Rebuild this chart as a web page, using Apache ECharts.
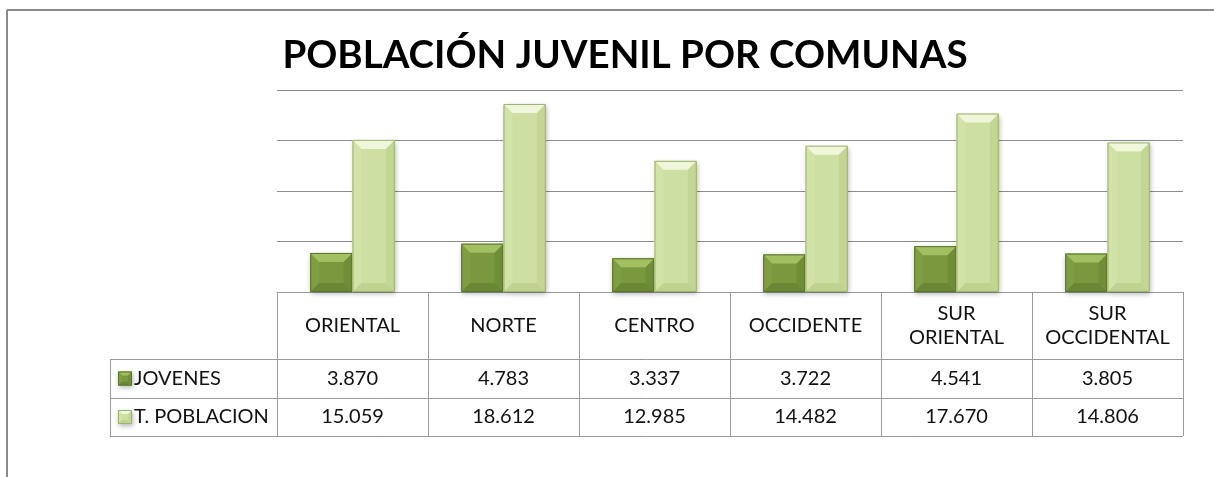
<!DOCTYPE html>
<html>
<head>
<meta charset="utf-8">
<title>Población juvenil por comunas</title>
<script src="https://cdn.jsdelivr.net/npm/echarts@6/dist/echarts.min.js"></script>
<style>
  html, body { margin: 0; padding: 0; background: #fff; }
  #chart { width: 1214px; height: 477px; }
</style>
</head>
<body>
<div id="chart"></div>
<script>
// Communes and their population counts
const comunas = ['ORIENTAL', 'NORTE', 'CENTRO', 'OCCIDENTE', 'SUR\nORIENTAL', 'SUR\nOCCIDENTAL'];
const jovenes = [3870, 4783, 3337, 3722, 4541, 3805];
const totalPoblacion = [15059, 18612, 12985, 14482, 17670, 14806];
const seriesNames = ['JOVENES', 'T. POBLACION'];
const yTicks = [0, 5000, 10000, 15000, 20000];

const FONT = 'Lato, "Open Sans", sans-serif';
const LINE = '#9a9a9a';

// Bevelled fill palettes: top facet, left facet, face, right facet, bottom facet, outline
const palettes = [
  { top: '#a2bf62', left: '#7f9e42', face: '#7a993e', right: '#708e38', bottom: '#6a8735', stroke: '#5a7429' },
  { top: '#eff6da', left: '#d2e3a8', face: '#cddfa3', right: '#c3d694', bottom: '#bfd28f', stroke: '#9db36f' }
];

// Spanish thousands separator
function fmt(n) {
  return String(n).replace(/\B(?=(\d{3})+(?!\d))/g, '.');
}

// Draws a bevelled block between two corners
function bevelShapes(x0, y0, x1, y1, pal, bevel) {
  const b = Math.max(0, Math.min(bevel, (y1 - y0) / 2, (x1 - x0) / 2));
  const poly = (pts, fill) => ({ type: 'polygon', shape: { points: pts }, style: { fill: fill }, silent: true });
  return [
    { type: 'rect', shape: { x: x0, y: y0, width: x1 - x0, height: y1 - y0 },
      style: { fill: pal.face, shadowBlur: 5, shadowOffsetX: 1, shadowOffsetY: 2, shadowColor: 'rgba(0,0,0,0.3)' } },
    poly([[x0, y0], [x0 + b, y0 + b], [x0 + b, y1 - b], [x0, y1]], pal.left),
    poly([[x1, y0], [x1, y1], [x1 - b, y1 - b], [x1 - b, y0 + b]], pal.right),
    poly([[x0, y1], [x0 + b, y1 - b], [x1 - b, y1 - b], [x1, y1]], pal.bottom),
    poly([[x0, y0], [x1, y0], [x1 - b, y0 + b], [x0 + b, y0 + b]], pal.top),
    { type: 'rect', shape: { x: x0 + 0.5, y: y0 + 0.5, width: x1 - x0 - 1, height: y1 - y0 - 1 },
      style: { fill: null, stroke: pal.stroke, lineWidth: 1 }, silent: true }
  ];
}

const BAR_RATIO = 0.28;

function makeRenderer(seriesIndex) {
  return function (params, api) {
    const cat = api.value(0);
    const val = api.value(1);
    const base = api.coord([cat, 0]);
    const top = api.coord([cat, val]);
    const band = api.size([1, 0])[0];
    const w = band * BAR_RATIO;
    const x0 = base[0] - w + seriesIndex * w;
    return {
      type: 'group',
      children: bevelShapes(x0, top[1], x0 + w, base[1], palettes[seriesIndex], 9)
    };
  };
}

const chart = echarts.init(document.getElementById('chart'), null, { renderer: 'canvas' });

const GRID = { left: 277, right: 31, top: 90, bottom: 185 };

chart.setOption({
  backgroundColor: '#ffffff',
  animation: false,
  grid: GRID,
  xAxis: {
    type: 'category',
    data: comunas,
    axisLine: { show: true, lineStyle: { color: LINE, width: 1 } },
    axisTick: { show: false },
    axisLabel: {
      interval: 0, margin: 34, verticalAlign: 'middle', lineHeight: 24,
      fontFamily: FONT, fontSize: 20, color: '#111'
    }
  },
  yAxis: {
    type: 'value',
    min: yTicks[0],
    max: yTicks[yTicks.length - 1],
    interval: yTicks[1] - yTicks[0],
    axisLine: { show: false },
    axisTick: { show: false },
    axisLabel: { show: false },
    splitLine: { lineStyle: { color: '#8c8c8c', width: 1 } }
  },
  series: [
    { name: seriesNames[0], type: 'custom', renderItem: makeRenderer(0),
      encode: { x: 0, y: 1 }, data: jovenes.map((v, i) => [i, v]) },
    { name: seriesNames[1], type: 'custom', renderItem: makeRenderer(1),
      encode: { x: 0, y: 1 }, data: totalPoblacion.map((v, i) => [i, v]) }
  ]
});

// Data table under the plot, frame and title
const W = 1214, H = 477;
const plotLeft = GRID.left, plotRight = W - GRID.right, axisY = H - GRID.bottom;
const rowTop = 359, rowMid = 398, rowBottom = 436, legendLeft = 110;
const rows = [jovenes, totalPoblacion];
const rowCenters = [(rowTop + rowMid) / 2, (rowMid + rowBottom) / 2];

const g = [];
const line = (x1, y1, x2, y2, color, width) => ({
  type: 'line', silent: true,
  shape: { x1: x1, y1: y1, x2: x2, y2: y2 },
  style: { stroke: color || LINE, lineWidth: width || 1 }
});

// outer frame
g.push(line(7, 10, W, 10, '#8a8a8a', 2));
g.push(line(7, 10, 7, H, '#8a8a8a', 2));

// title
g.push({
  type: 'text', x: 625, y: 56, silent: true,
  style: {
    text: 'POBLACIÓN JUVENIL POR COMUNAS', fill: '#000',
    font: 'bold 38.5px ' + FONT, align: 'center', verticalAlign: 'middle'
  }
});

// column separators
const edges = [plotLeft];
for (let i = 0; i < comunas.length; i++) {
  const c = chart.convertToPixel({ xAxisIndex: 0 }, i);
  const next = i < comunas.length - 1 ? chart.convertToPixel({ xAxisIndex: 0 }, i + 1) : null;
  edges.push(next !== null ? (c + next) / 2 : plotRight);
}
edges.forEach((x) => g.push(line(Math.round(x) + 0.5, axisY, Math.round(x) + 0.5, rowBottom)));
g.push(line(legendLeft + 0.5, rowTop, legendLeft + 0.5, rowBottom));
[rowTop, rowMid, rowBottom].forEach((y) => g.push(line(legendLeft, y + 0.5, plotRight, y + 0.5)));

// legend cells
seriesNames.forEach((name, r) => {
  const cy = rowCenters[r];
  bevelShapes(118, cy - 7, 132, cy + 7, palettes[r], 4).forEach((s) => g.push(s));
  g.push({
    type: 'text', x: 134, y: cy, silent: true,
    style: { text: name, fill: '#111', font: '20px ' + FONT, align: 'left', verticalAlign: 'middle' }
  });
});

// value cells
rows.forEach((vals, r) => {
  vals.forEach((v, i) => {
    g.push({
      type: 'text', x: chart.convertToPixel({ xAxisIndex: 0 }, i), y: rowCenters[r], silent: true,
      style: { text: fmt(v), fill: '#111', font: '20px ' + FONT, align: 'center', verticalAlign: 'middle' }
    });
  });
});

chart.setOption({ graphic: { elements: g } });
</script>
</body>
</html>
